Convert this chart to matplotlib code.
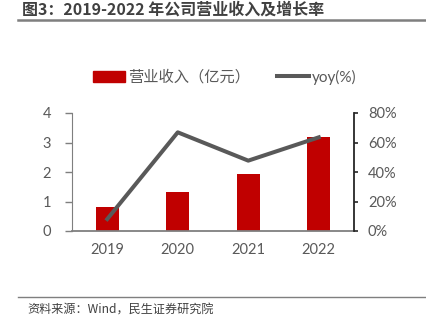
import matplotlib
matplotlib.use("Agg")
import matplotlib.pyplot as plt
from matplotlib.lines import Line2D
from matplotlib.patches import Patch

plt.rcParams['font.family'] = ['Lato', 'Noto Sans CJK SC', 'DejaVu Sans']

years = ["2019", "2020", "2021", "2022"]
revenue = [0.81, 1.32, 1.94, 3.18]
yoy = [8.1, 66.9, 47.7, 63.5]
left_ticks = [0, 1, 2, 3, 4]
right_ticks = [0, 20, 40, 60, 80]
right_labels = ["0%", "20%", "40%", "60%", "80%"]

title = "图3：2019-2022 年公司营业收入及增长率"
source = "资料来源：Wind，民生证券研究院"
bar_label = "营业收入（亿元）"
line_label = "yoy(%)"

W, H = 427, 328
fig = plt.figure(figsize=(W / 100, H / 100), dpi=100)

ax = fig.add_axes([72 / W, 1 - 231 / H, (354 - 72) / W, (231 - 113) / H])
x = list(range(len(years)))
red = "#C00000"
gray_line = "#595959"
text_gray = "#595959"

ax.bar(x, revenue, width=0.33, color=red, zorder=2)
ax.set_xlim(-0.5, 3.5)
ax.set_ylim(0, 4)
ax.set_yticks(left_ticks)
ax.set_xticks(x)
ax.set_xticklabels(years)
ax.tick_params(axis='x', length=0, pad=9, labelsize=10.5, labelcolor=text_gray)
ax.tick_params(axis='y', length=5, width=1, color="#7f7f7f", pad=10, labelsize=10.5, labelcolor=text_gray)
for s in ["top", "right"]:
    ax.spines[s].set_visible(False)
ax.spines["left"].set_color("#7f7f7f")
ax.spines["bottom"].set_color("#7f7f7f")
ax.spines["bottom"].set_linewidth(1.3)

ax2 = ax.twinx()
ax2.plot(x, yoy, color=gray_line, linewidth=2.9, zorder=3)
ax2.set_ylim(0, 80)
ax2.set_yticks(right_ticks)
ax2.set_yticklabels(right_labels)
ax2.tick_params(axis='y', length=3, width=1.2, color="#262626", pad=7, labelsize=10.5, labelcolor=text_gray)
for s in ["top", "left", "bottom"]:
    ax2.spines[s].set_visible(False)
ax2.spines["right"].set_color("#262626")
ax2.spines["right"].set_linewidth(1.3)

# legend
handles = [Patch(facecolor=red, edgecolor=red), Line2D([0], [0], color=gray_line, linewidth=2.9)]
fig.legend(handles, [bar_label, line_label], loc="center", bbox_to_anchor=(224.5 / W, 1 - 77 / H),
           ncol=2, frameon=False, fontsize=11, handlelength=2.1, handleheight=0.7,
           handletextpad=0.2, columnspacing=1.75, labelcolor=text_gray)

# title and rules
fig.text(22 / W, 1 - 10 / H, title, fontsize=11.5, fontweight="bold", color="#404040",
         va="center", ha="left", family=['Noto Sans CJK SC', 'DejaVu Sans'])
fig.add_artist(Line2D([18 / W, 425 / W], [1 - 20 / H, 1 - 20 / H], color="#7f7f7f", linewidth=1.8))
fig.add_artist(Line2D([18 / W, 425 / W], [1 - 297 / H, 1 - 297 / H], color="#7f7f7f", linewidth=1.0))
fig.text(27 / W, 1 - 310 / H, source, fontsize=8.7, color="#404040", va="center", ha="left",
         family=['Noto Sans CJK SC', 'DejaVu Sans'])

fig.savefig("out.png", dpi=100)
